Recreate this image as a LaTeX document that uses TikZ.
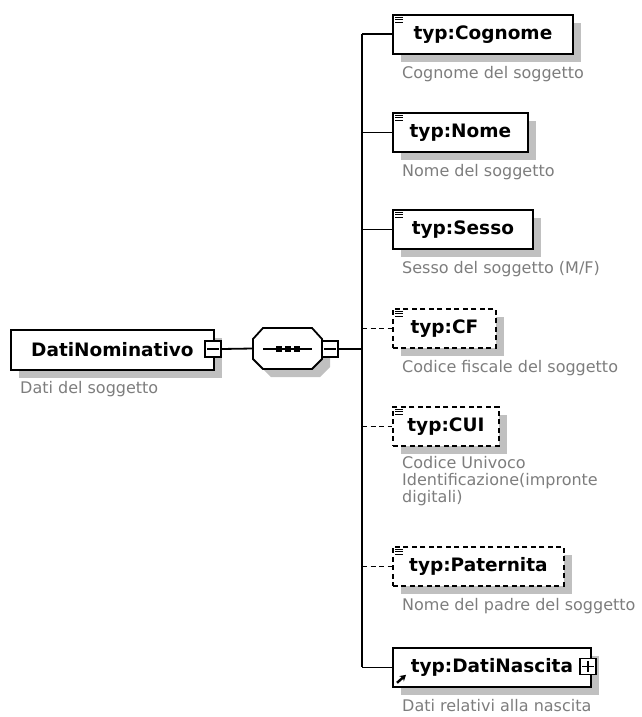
\documentclass[tikz,border=0pt]{standalone}
\usepackage{fontspec}
\setmainfont{DejaVu Sans}
\usetikzlibrary{shadows,arrows.meta}
\definecolor{shd}{RGB}{192,192,192}
\definecolor{lbl}{RGB}{125,125,125}
\newcommand\myicon[1]{\foreach \d in {3,5.5,8} {\draw[line width=0.9pt] ([shift={(3pt,-\d pt)}]#1.north west) -- ++(8,0);}}
\tikzset{
 elem/.style={draw=black, line width=1.8pt, fill=white, anchor=north west, inner sep=0pt,
   minimum height=39pt, font=\fontsize{18.5}{20}\selectfont\bfseries,
   general shadow={fill=shd, shadow xshift=8pt, shadow yshift=-8pt}},
 optelem/.style={elem, dash pattern=on 5pt off 3.5pt},
 desc/.style={anchor=west, inner sep=0pt, text=lbl, font=\fontsize{16}{17}\selectfont},
 conn/.style={line width=1.8pt},
 optconn/.style={conn, dash pattern=on 5pt off 3.5pt},
 btn/.style={draw, line width=1.4pt, fill=white, minimum size=16pt, inner sep=0pt},
}
\begin{document}
\begin{tikzpicture}[x=1pt,y=-1pt]
\useasboundingbox (0,0) rectangle (642,717);
% root element
\node[elem, minimum width=203pt, minimum height=40pt] (root) at (10,329) {DatiNominativo};
\node[btn] (rb) at (213,349) {};
\draw[line width=1.3pt] ([xshift=3pt]rb.west) -- ([xshift=-3pt]rb.east);
\node[desc] (rootd) at (20,389) {Dati del soggetto};
% sequence compositor
\fill[shd] (261,347) -- (271,336) -- (320,336) -- (330,347) -- (330,367) -- (320,377) -- (271,377) -- (261,367) -- cycle;
\filldraw[fill=white, draw=black, line width=1.8pt] (253,339) -- (263,328) -- (312,328) -- (322,339) -- (322,359) -- (312,369) -- (263,369) -- (253,359) -- cycle;
\node[minimum width=69pt, minimum height=41pt, inner sep=0pt] (seq) at (287.5,348.5) {};
\draw[line width=1.4pt] (263,349) -- (312,349);
\foreach \x in {279,288,297} {\fill (\x-2.6,346.4) rectangle (\x+2.6,351.6);}
\node[btn] (sb) at (330,349) {};
\draw[line width=1.3pt] ([xshift=3pt]sb.west) -- ([xshift=-3pt]sb.east);
\draw[conn] (rb.east) -- (seq.west);
\coordinate (tm) at (362,349);
\draw[conn] (sb.east) -- (tm);
% children
\node[elem, minimum width=180pt] (cog) at (392,14) {typ:Cognome};
\node[elem, minimum width=135pt] (nom) at (392,112) {typ:Nome};
\node[elem, minimum width=140pt] (ses) at (392,209) {typ:Sesso};
\node[optelem, minimum width=103pt] (cf) at (392,308) {typ:CF};
\node[optelem, minimum width=106pt] (cui) at (392,406) {typ:CUI};
\node[optelem, minimum width=171pt] (pat) at (392,546) {typ:Paternita};
\node[elem, minimum width=198pt] (nas) at (392,647) {typ:DatiNascita};
\node[btn] (nb) at (588,666.5) {};
\draw[line width=1.3pt] ([xshift=3pt]nb.west) -- ([xshift=-3pt]nb.east);
\draw[line width=1.3pt] ([yshift=-3pt]nb.north) -- ([yshift=3pt]nb.south);
\draw[line width=2.4pt, -{Stealth[length=6pt,width=7pt]}] ([shift={(5pt,5pt)}]nas.south west) -- ++(9,-8);
\myicon{cog}
\myicon{nom}
\myicon{ses}
\myicon{cf}
\myicon{cui}
\myicon{pat}
% trunk and branches
\draw[conn] (tm |- cog.west) -- (tm |- nas.west);
\draw[conn] (tm |- cog.west) -- (cog.west);
\draw[conn] (tm |- nom.west) -- (nom.west);
\draw[conn] (tm |- ses.west) -- (ses.west);
\draw[optconn] (tm |- cf.west) -- (cf.west);
\draw[optconn] (tm |- cui.west) -- (cui.west);
\draw[optconn] (tm |- pat.west) -- (pat.west);
\draw[conn] (tm |- nas.west) -- (nas.west);
% descriptions
\node[desc] (cogd) at (402,74) {Cognome del soggetto};
\node[desc] (nomd) at (402,172) {Nome del soggetto};
\node[desc] (sesd) at (402,269) {Sesso del soggetto (M/F)};
\node[desc] (cfd) at (402,368) {Codice fiscale del soggetto};
\node[desc, anchor=north west, align=left] (cuid) at (402,456) {Codice Univoco\\Identificazione(impronte\\digitali)};
\node[desc] (patd) at (402,606) {Nome del padre del soggetto};
\node[desc] (nasd) at (402,706) {Dati relativi alla nascita};
\end{tikzpicture}
\end{document}
